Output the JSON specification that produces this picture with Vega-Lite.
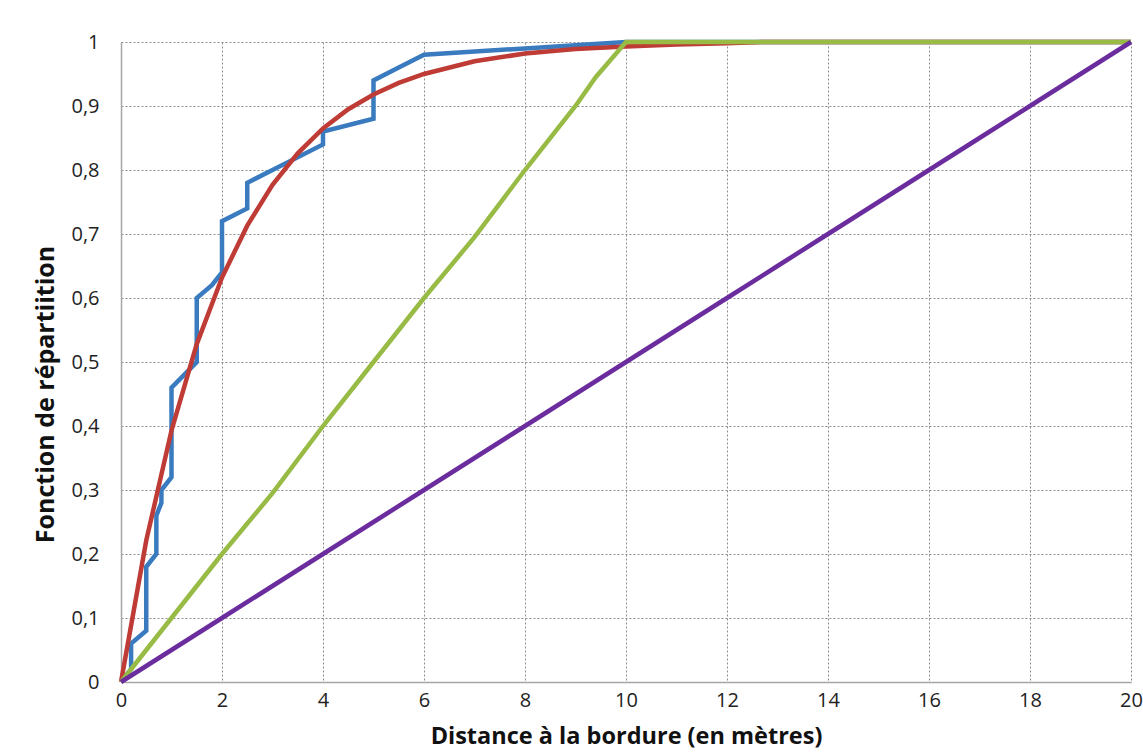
{
  "$schema": "https://vega.github.io/schema/vega-lite/v6.json",
  "width": 1010,
  "height": 640,
  "autosize": {"type": "none"},
  "padding": {"left": 121, "top": 42, "right": 12, "bottom": 71},
  "background": "white",
  "config": {
    "view": {"stroke": null},
    "font": "Open Sans",
    "axis": {"labelFont": "Open Sans", "titleFont": "Open Sans", "labelColor": "#222", "titleColor": "#111"}
  },
  "data": {"values": [
    {"s": "emp", "i": 0, "x": 0, "y": 0},
    {"s": "emp", "i": 1, "x": 0.2, "y": 0.02},
    {"s": "emp", "i": 2, "x": 0.2, "y": 0.06},
    {"s": "emp", "i": 3, "x": 0.5, "y": 0.08},
    {"s": "emp", "i": 4, "x": 0.5, "y": 0.18},
    {"s": "emp", "i": 5, "x": 0.7, "y": 0.2},
    {"s": "emp", "i": 6, "x": 0.7, "y": 0.26},
    {"s": "emp", "i": 7, "x": 0.8, "y": 0.28},
    {"s": "emp", "i": 8, "x": 0.8, "y": 0.3},
    {"s": "emp", "i": 9, "x": 1.0, "y": 0.32},
    {"s": "emp", "i": 10, "x": 1.0, "y": 0.46},
    {"s": "emp", "i": 11, "x": 1.25, "y": 0.48},
    {"s": "emp", "i": 12, "x": 1.5, "y": 0.5},
    {"s": "emp", "i": 13, "x": 1.5, "y": 0.6},
    {"s": "emp", "i": 14, "x": 1.8, "y": 0.62},
    {"s": "emp", "i": 15, "x": 2.0, "y": 0.64},
    {"s": "emp", "i": 16, "x": 2.0, "y": 0.72},
    {"s": "emp", "i": 17, "x": 2.5, "y": 0.74},
    {"s": "emp", "i": 18, "x": 2.5, "y": 0.78},
    {"s": "emp", "i": 19, "x": 3.0, "y": 0.8},
    {"s": "emp", "i": 20, "x": 4.0, "y": 0.84},
    {"s": "emp", "i": 21, "x": 4.0, "y": 0.86},
    {"s": "emp", "i": 22, "x": 5.0, "y": 0.88},
    {"s": "emp", "i": 23, "x": 5.0, "y": 0.94},
    {"s": "emp", "i": 24, "x": 5.5, "y": 0.96},
    {"s": "emp", "i": 25, "x": 6.0, "y": 0.98},
    {"s": "emp", "i": 26, "x": 8.0, "y": 0.99},
    {"s": "emp", "i": 27, "x": 10.0, "y": 1.0},
    {"s": "emp", "i": 28, "x": 20.0, "y": 1.0},

    {"s": "exp", "i": 0, "x": 0, "y": 0},
    {"s": "exp", "i": 1, "x": 0.5, "y": 0.221},
    {"s": "exp", "i": 2, "x": 1.0, "y": 0.393},
    {"s": "exp", "i": 3, "x": 1.5, "y": 0.528},
    {"s": "exp", "i": 4, "x": 2.0, "y": 0.632},
    {"s": "exp", "i": 5, "x": 2.5, "y": 0.713},
    {"s": "exp", "i": 6, "x": 3.0, "y": 0.777},
    {"s": "exp", "i": 7, "x": 3.5, "y": 0.826},
    {"s": "exp", "i": 8, "x": 4.0, "y": 0.865},
    {"s": "exp", "i": 9, "x": 4.5, "y": 0.895},
    {"s": "exp", "i": 10, "x": 5.0, "y": 0.918},
    {"s": "exp", "i": 11, "x": 5.5, "y": 0.936},
    {"s": "exp", "i": 12, "x": 6.0, "y": 0.95},
    {"s": "exp", "i": 13, "x": 7.0, "y": 0.97},
    {"s": "exp", "i": 14, "x": 8.0, "y": 0.982},
    {"s": "exp", "i": 15, "x": 9.0, "y": 0.989},
    {"s": "exp", "i": 16, "x": 10.0, "y": 0.993},
    {"s": "exp", "i": 17, "x": 11.0, "y": 0.996},
    {"s": "exp", "i": 18, "x": 12.0, "y": 0.998},
    {"s": "exp", "i": 19, "x": 12.7, "y": 1.0},
    {"s": "exp", "i": 20, "x": 20.0, "y": 1.0},

    {"s": "u10", "i": 0, "x": 0, "y": 0},
    {"s": "u10", "i": 1, "x": 1, "y": 0.1},
    {"s": "u10", "i": 2, "x": 2, "y": 0.2},
    {"s": "u10", "i": 3, "x": 3, "y": 0.295},
    {"s": "u10", "i": 4, "x": 4, "y": 0.4},
    {"s": "u10", "i": 5, "x": 5, "y": 0.5},
    {"s": "u10", "i": 6, "x": 6, "y": 0.6},
    {"s": "u10", "i": 7, "x": 7, "y": 0.695},
    {"s": "u10", "i": 8, "x": 8, "y": 0.8},
    {"s": "u10", "i": 9, "x": 9, "y": 0.9},
    {"s": "u10", "i": 10, "x": 9.4, "y": 0.945},
    {"s": "u10", "i": 11, "x": 10, "y": 1.0},
    {"s": "u10", "i": 12, "x": 20, "y": 1.0},

    {"s": "u20", "i": 0, "x": 0, "y": 0},
    {"s": "u20", "i": 1, "x": 1, "y": 0.05},
    {"s": "u20", "i": 2, "x": 2, "y": 0.1},
    {"s": "u20", "i": 3, "x": 3, "y": 0.15},
    {"s": "u20", "i": 4, "x": 4, "y": 0.2},
    {"s": "u20", "i": 5, "x": 5, "y": 0.25},
    {"s": "u20", "i": 6, "x": 6, "y": 0.3},
    {"s": "u20", "i": 7, "x": 7, "y": 0.35},
    {"s": "u20", "i": 8, "x": 8, "y": 0.4},
    {"s": "u20", "i": 9, "x": 9, "y": 0.45},
    {"s": "u20", "i": 10, "x": 10, "y": 0.5},
    {"s": "u20", "i": 11, "x": 11, "y": 0.55},
    {"s": "u20", "i": 12, "x": 12, "y": 0.6},
    {"s": "u20", "i": 13, "x": 13, "y": 0.65},
    {"s": "u20", "i": 14, "x": 14, "y": 0.7},
    {"s": "u20", "i": 15, "x": 15, "y": 0.75},
    {"s": "u20", "i": 16, "x": 16, "y": 0.8},
    {"s": "u20", "i": 17, "x": 17, "y": 0.85},
    {"s": "u20", "i": 18, "x": 18, "y": 0.9},
    {"s": "u20", "i": 19, "x": 19, "y": 0.95},
    {"s": "u20", "i": 20, "x": 20, "y": 1.0}
  ]},
  "encoding": {
    "x": {
      "field": "x", "type": "quantitative",
      "scale": {"domain": [0, 20], "nice": false, "zero": false},
      "axis": {
        "values": [0, 2, 4, 6, 8, 10, 12, 14, 16, 18, 20],
        "title": "Distance à la bordure (en mètres)",
        "titleFontSize": 23.5, "titleFontWeight": "bold", "titlePadding": 14,
        "labelFontSize": 20, "labelPadding": 8, "ticks": false,
        "labelFlush": false,
        "domainColor": "#A6A6A6", "domainWidth": 1.5,
        "grid": true, "gridColor": "#8C8C8C", "gridDash": [2, 2], "gridWidth": 1
      }
    },
    "y": {
      "field": "y", "type": "quantitative",
      "scale": {"domain": [0, 1], "nice": false},
      "axis": {
        "values": [0, 0.1, 0.2, 0.3, 0.4, 0.5, 0.6, 0.7, 0.8, 0.9, 1],
        "labelExpr": "replace(format(datum.value, '.1~f'), '.', ',')",
        "title": "Fonction de répartiition",
        "titleFontSize": 25, "titleFontWeight": "bold", "titlePadding": 12,
        "titleY": 352,
        "labelFontSize": 20, "labelPadding": 22, "ticks": false,
        "labelFlush": false,
        "domainColor": "#A6A6A6", "domainWidth": 1.5,
        "grid": true, "gridColor": "#8C8C8C", "gridDash": [2, 2], "gridWidth": 1
      }
    },
    "order": {"field": "i", "type": "quantitative"}
  },
  "layer": [
    {"transform": [{"filter": "datum.s === 'emp'"}], "mark": {"type": "line", "color": "#3A7BC0", "strokeWidth": 4.5, "clip": false}},
    {"transform": [{"filter": "datum.s === 'exp'"}], "mark": {"type": "line", "color": "#BE3B36", "strokeWidth": 4.5, "clip": false}},
    {"transform": [{"filter": "datum.s === 'u10'"}], "mark": {"type": "line", "color": "#98BB45", "strokeWidth": 4.5, "clip": false}},
    {"transform": [{"filter": "datum.s === 'u20'"}], "mark": {"type": "line", "color": "#6B2C9E", "strokeWidth": 4.5, "clip": false}}
  ]
}
